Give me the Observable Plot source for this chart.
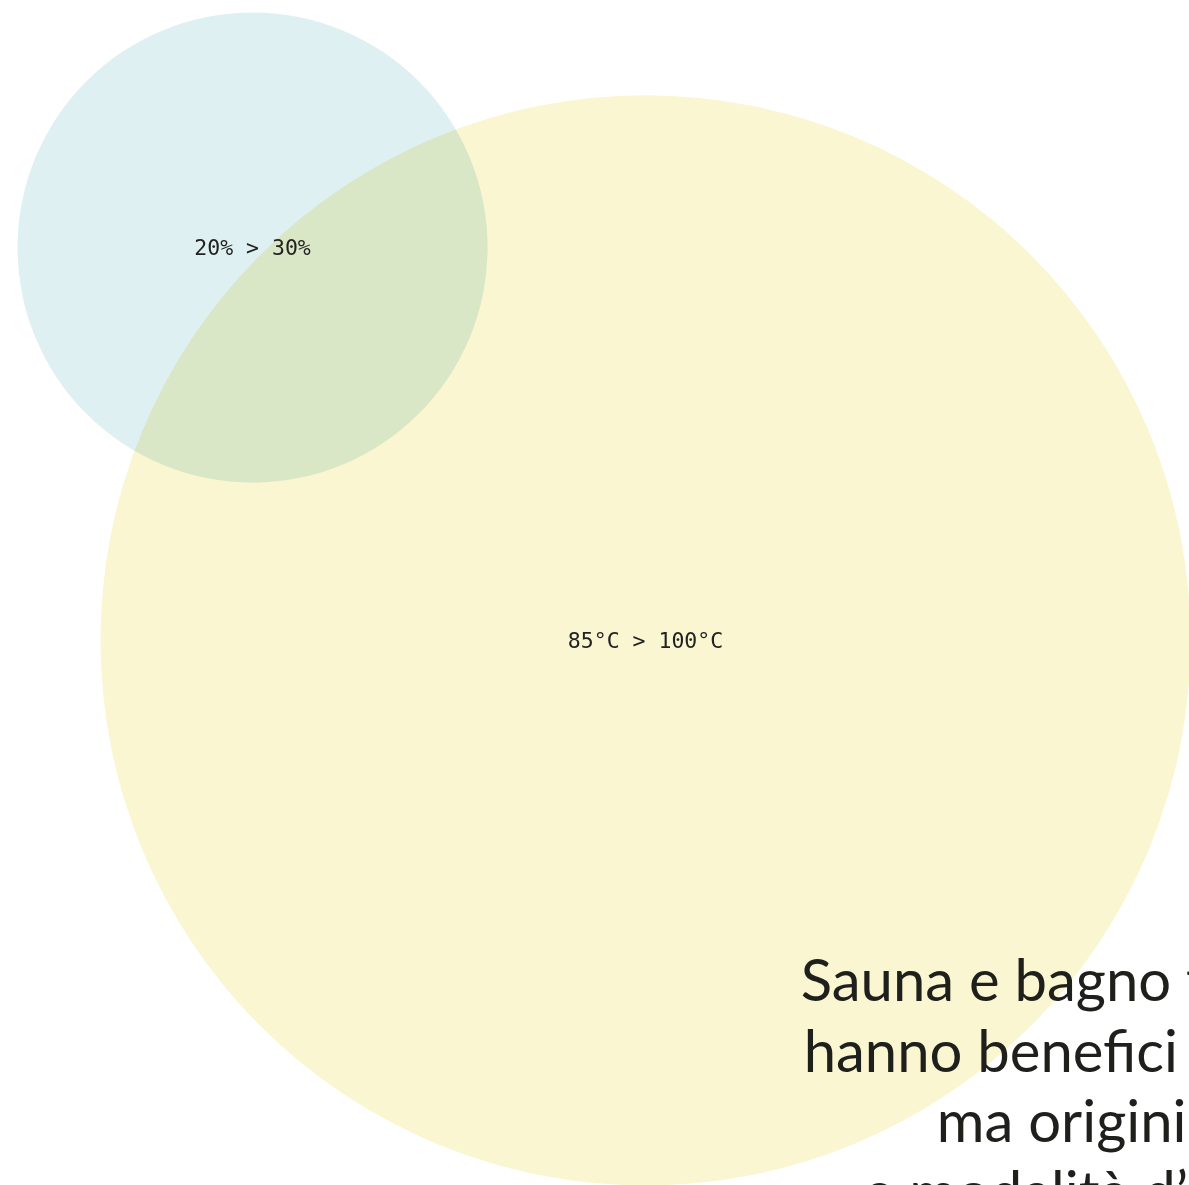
<!DOCTYPE html>
<html>
<head>
<meta charset="utf-8">
<script src="https://cdn.jsdelivr.net/npm/d3@7"></script>
<script src="https://cdn.jsdelivr.net/npm/@observablehq/plot@0.6"></script>
<style>
  html, body { margin: 0; padding: 0; background: #fff; overflow: hidden; }
  #chart svg { overflow: hidden; display: block; }
</style>
</head>
<body>
<div id="chart"></div>
<script>
// Circles (data units on a 0–100 grid)
const names   = ["umidità", "temperatura"];
const centerX = [54.25, 21.2];
const centerY = [54.0, 20.85];
const radii   = [45.84, 19.77];
const labels  = ["85°C > 100°C", "20% > 30%"];
const fills   = ["#faf6d1", "#dff0f2"];

// Headline text lines
const headline = ["Sauna e bagno turco", "hanno benefici simili", "ma origini diverse", "e modalità d’uso differenti"];
const headX    = [67.3, 67.55, 78.75, 72.6];
const headY    = [84.4, 90.4, 96.3, 102.3];

const circles = names.map((n, i) => ({name: n, x: centerX[i], y: centerY[i], r: radii[i], label: labels[i], fill: fills[i]}));
const lines = headline.map((t, i) => ({text: t, x: headX[i], y: headY[i]}));

const W = 1189, H = 1185;
const plot = Plot.plot({
  width: W,
  height: H,
  margin: 0,
  x: {domain: [0, 100], range: [0, W], axis: null},
  y: {domain: [0, 100], range: [0, H], axis: null},
  r: {type: "linear", domain: [0, 100], range: [0, W]},
  color: {type: "identity"},
  marks: [
    Plot.dot(circles, {x: "x", y: "y", r: "r", fill: "fill", stroke: null, mixBlendMode: "multiply"}),
    Plot.text(circles, {x: "x", y: "y", dy: 1, text: "label", fontFamily: "DejaVu Sans Mono", fontSize: 21.5, fill: "#222", textAnchor: "middle", lineAnchor: "middle"}),
    Plot.text(lines, {x: "x", y: "y", text: "text", fontFamily: "Lato", fontSize: 58, fill: "#1f1f1c", textAnchor: "start", lineAnchor: "bottom"})
  ]
});
document.getElementById("chart").appendChild(plot);
</script>
</body>
</html>
